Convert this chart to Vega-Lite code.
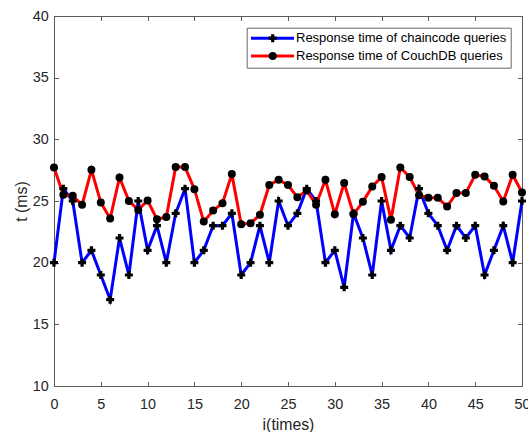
{
  "$schema": "https://vega.github.io/schema/vega-lite/v6.json",
  "width": 468,
  "height": 370,
  "autosize": "none",
  "padding": {"left": 54, "top": 16, "right": 6, "bottom": 46},
  "background": "white",
  "config": {
    "font": "Liberation Sans",
    "view": {"stroke": null},
    "axis": {
      "domainColor": "#5a5a5a",
      "tickColor": "#5a5a5a",
      "labelColor": "#262626",
      "titleColor": "#262626",
      "labelFontSize": 14.4,
      "titleFontSize": 15.8,
      "titleFontWeight": "normal",
      "labelFont": "Liberation Sans",
      "titleFont": "Liberation Sans",
      "grid": false,
      "tickSize": -4.5,
      "labelFlush": false,
      "labelOverlap": false,
      "labelBound": false
    }
  },
  "data": {
    "values": [
      {"i": 0, "Response time of chaincode queries": 20, "Response time of CouchDB queries": 27.72},
      {"i": 1, "Response time of chaincode queries": 26, "Response time of CouchDB queries": 25.5},
      {"i": 2, "Response time of chaincode queries": 25, "Response time of CouchDB queries": 25.42},
      {"i": 3, "Response time of chaincode queries": 20, "Response time of CouchDB queries": 24.69},
      {"i": 4, "Response time of chaincode queries": 21, "Response time of CouchDB queries": 27.53},
      {"i": 5, "Response time of chaincode queries": 19, "Response time of CouchDB queries": 24.88},
      {"i": 6, "Response time of chaincode queries": 17, "Response time of CouchDB queries": 23.58},
      {"i": 7, "Response time of chaincode queries": 22, "Response time of CouchDB queries": 26.91},
      {"i": 8, "Response time of chaincode queries": 19, "Response time of CouchDB queries": 25.01},
      {"i": 9, "Response time of chaincode queries": 25, "Response time of CouchDB queries": 24.28},
      {"i": 10, "Response time of chaincode queries": 21, "Response time of CouchDB queries": 25.04},
      {"i": 11, "Response time of chaincode queries": 23, "Response time of CouchDB queries": 23.52},
      {"i": 12, "Response time of chaincode queries": 20, "Response time of CouchDB queries": 23.71},
      {"i": 13, "Response time of chaincode queries": 24, "Response time of CouchDB queries": 27.75},
      {"i": 14, "Response time of chaincode queries": 26, "Response time of CouchDB queries": 27.75},
      {"i": 15, "Response time of chaincode queries": 20, "Response time of CouchDB queries": 25.96},
      {"i": 16, "Response time of chaincode queries": 21, "Response time of CouchDB queries": 23.33},
      {"i": 17, "Response time of chaincode queries": 23, "Response time of CouchDB queries": 24.23},
      {"i": 18, "Response time of chaincode queries": 23, "Response time of CouchDB queries": 24.82},
      {"i": 19, "Response time of chaincode queries": 24, "Response time of CouchDB queries": 27.18},
      {"i": 20, "Response time of chaincode queries": 19, "Response time of CouchDB queries": 23.12},
      {"i": 21, "Response time of chaincode queries": 20, "Response time of CouchDB queries": 23.2},
      {"i": 22, "Response time of chaincode queries": 23, "Response time of CouchDB queries": 23.88},
      {"i": 23, "Response time of chaincode queries": 20, "Response time of CouchDB queries": 26.29},
      {"i": 24, "Response time of chaincode queries": 25, "Response time of CouchDB queries": 26.72},
      {"i": 25, "Response time of chaincode queries": 23, "Response time of CouchDB queries": 26.29},
      {"i": 26, "Response time of chaincode queries": 24, "Response time of CouchDB queries": 25.31},
      {"i": 27, "Response time of chaincode queries": 26, "Response time of CouchDB queries": 25.85},
      {"i": 28, "Response time of chaincode queries": 25, "Response time of CouchDB queries": 24.7},
      {"i": 29, "Response time of chaincode queries": 20, "Response time of CouchDB queries": 26.72},
      {"i": 30, "Response time of chaincode queries": 21, "Response time of CouchDB queries": 23.93},
      {"i": 31, "Response time of chaincode queries": 18, "Response time of CouchDB queries": 26.45},
      {"i": 32, "Response time of chaincode queries": 24, "Response time of CouchDB queries": 23.93},
      {"i": 33, "Response time of chaincode queries": 22, "Response time of CouchDB queries": 24.93},
      {"i": 34, "Response time of chaincode queries": 19, "Response time of CouchDB queries": 26.18},
      {"i": 35, "Response time of chaincode queries": 25, "Response time of CouchDB queries": 26.94},
      {"i": 36, "Response time of chaincode queries": 21, "Response time of CouchDB queries": 23.47},
      {"i": 37, "Response time of chaincode queries": 23, "Response time of CouchDB queries": 27.72},
      {"i": 38, "Response time of chaincode queries": 22, "Response time of CouchDB queries": 26.94},
      {"i": 39, "Response time of chaincode queries": 26, "Response time of CouchDB queries": 25.47},
      {"i": 40, "Response time of chaincode queries": 24, "Response time of CouchDB queries": 25.26},
      {"i": 41, "Response time of chaincode queries": 23, "Response time of CouchDB queries": 25.26},
      {"i": 42, "Response time of chaincode queries": 21, "Response time of CouchDB queries": 24.55},
      {"i": 43, "Response time of chaincode queries": 23, "Response time of CouchDB queries": 25.64},
      {"i": 44, "Response time of chaincode queries": 22, "Response time of CouchDB queries": 25.64},
      {"i": 45, "Response time of chaincode queries": 23, "Response time of CouchDB queries": 27.13},
      {"i": 46, "Response time of chaincode queries": 19, "Response time of CouchDB queries": 26.99},
      {"i": 47, "Response time of chaincode queries": 21, "Response time of CouchDB queries": 26.23},
      {"i": 48, "Response time of chaincode queries": 23, "Response time of CouchDB queries": 24.96},
      {"i": 49, "Response time of chaincode queries": 20, "Response time of CouchDB queries": 27.13},
      {"i": 50, "Response time of chaincode queries": 25, "Response time of CouchDB queries": 25.69}
    ]
  },
  "transform": [
    {"fold": ["Response time of chaincode queries", "Response time of CouchDB queries"], "as": ["series", "t"]}
  ],
  "layer": [
    {
      "mark": {"type": "line", "strokeWidth": 3},
      "encoding": {
        "x": {"field": "i", "type": "quantitative", "scale": {"domain": [0, 50], "nice": false, "zero": false},
              "axis": {"values": [0, 5, 10, 15, 20, 25, 30, 35, 40, 45, 50], "title": "i(times)", "labelPadding": 15.5, "titlePadding": 7}},
        "y": {"field": "t", "type": "quantitative", "scale": {"domain": [10, 40], "nice": false, "zero": false},
              "axis": {"values": [10, 15, 20, 25, 30, 35, 40], "title": "t (ms)", "labelPadding": 10.2, "titlePadding": 2.5}},
        "color": {"field": "series", "type": "nominal",
                  "scale": {"domain": ["Response time of chaincode queries", "Response time of CouchDB queries"], "range": ["#0000ff", "#ff0000"]},
                  "legend": {"orient": "none", "legendX": 192.7, "legendY": 11.7, "title": null,
                             "symbolType": "M-1.44,0H8.56", "symbolSize": 74, "symbolStrokeWidth": 3,
                             "labelOffset": 32.3, "labelFontSize": 13, "labelColor": "#000000", "labelLimit": 400,
                             "padding": 4, "rowPadding": 3.7, "strokeColor": "#666666", "fillColor": "white"}}
      }
    },
    {
      "mark": {"type": "point", "filled": true, "opacity": 1, "color": "black", "size": 64},
      "encoding": {
        "x": {"field": "i", "type": "quantitative", "axis": null},
        "y": {"field": "t", "type": "quantitative", "axis": null},
        "shape": {"field": "series", "type": "nominal", "sort": "descending",
                  "scale": {"range": ["cross", "circle"]},
                  "legend": {"orient": "none", "legendX": 212.2, "legendY": 15.7, "title": null,
                             "symbolSize": 64, "symbolFillColor": "black", "symbolStrokeColor": "black", "symbolStrokeWidth": 0,
                             "labelExpr": "''", "labelColor": "transparent", "labelFontSize": 13, "padding": 0, "rowPadding": 3.7}}
      }
    },
    {
      "mark": {"type": "point", "opacity": 0},
      "encoding": {
        "x": {"field": "i", "type": "quantitative",
              "axis": {"orient": "top", "values": [0, 5, 10, 15, 20, 25, 30, 35, 40, 45, 50], "labels": false, "title": null}},
        "y": {"field": "t", "type": "quantitative",
              "axis": {"orient": "right", "values": [10, 15, 20, 25, 30, 35, 40], "labels": false, "title": null}}
      }
    }
  ],
  "resolve": {"axis": {"x": "independent", "y": "independent"}}
}
